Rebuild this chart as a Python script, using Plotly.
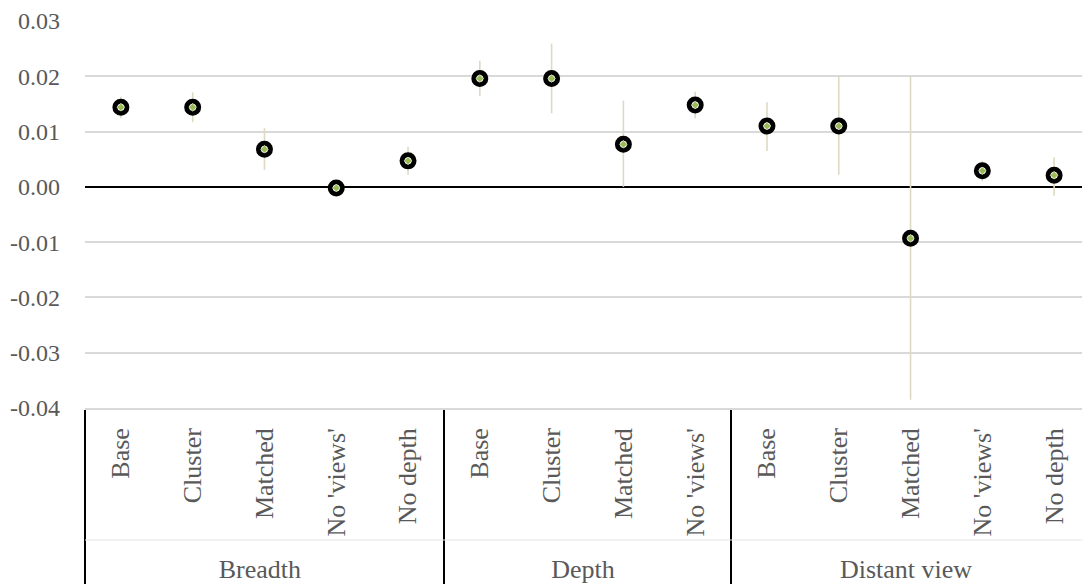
import plotly.graph_objects as go

groups = ["Breadth"] * 5 + ["Depth"] * 4 + ["Distant view"] * 5
subs = ["Base", "Cluster", "Matched", "No 'views'", "No depth",
        "Base", "Cluster", "Matched", "No 'views'",
        "Base", "Cluster", "Matched", "No 'views'", "No depth"]
values = [0.0144, 0.0144, 0.0068, -0.0002, 0.0047,
          0.0196, 0.0196, 0.0077, 0.0148,
          0.0110, 0.0110, -0.0093, 0.0029, 0.0021]
upper = [0.0163, 0.0171, 0.0106, 0.0002, 0.0072,
         0.0228, 0.0259, 0.0156, 0.0172,
         0.0153, 0.0200, 0.0200, 0.0047, 0.0053]
lower = [0.0124, 0.0117, 0.0031, -0.0006, 0.0022,
         0.0165, 0.0133, 0.0000, 0.0124,
         0.0065, 0.0022, -0.0385, 0.0010, -0.0016]
ytickvals = [-0.04, -0.03, -0.02, -0.01, 0.0, 0.01, 0.02, 0.03]
yticktext = ["-0.04", "-0.03", "-0.02", "-0.01", "0.00", "0.01", "0.02", "0.03"]

FONT = "Liberation Serif"
err_plus = [u - v for u, v in zip(upper, values)]
err_minus = [v - l for v, l in zip(values, lower)]

fig = go.Figure()
fig.add_trace(go.Scatter(
    x=[groups, subs], y=values, mode="markers",
    marker=dict(symbol="circle", size=12, color="white",
                line=dict(color="black", width=5)),
    error_y=dict(type="data", array=err_plus, arrayminus=err_minus,
                 color="#DDD9C3", thickness=1.6, width=0),
    showlegend=False, hoverinfo="skip",
))
fig.add_trace(go.Scatter(
    x=[groups, subs], y=values, mode="markers",
    marker=dict(symbol="diamond", size=6, color="#9BBB59",
                line=dict(color="#F4F8E8", width=0.5)),
    showlegend=False, hoverinfo="skip",
))

fig.update_layout(
    width=1082, height=579,
    margin=dict(l=77, r=0, t=13, b=179),
    paper_bgcolor="white", plot_bgcolor="white",
    font=dict(family=FONT, size=26, color="#595959"),
    xaxis=dict(type="multicategory", tickangle=-90, showdividers=True,
               dividercolor="black", dividerwidth=2, automargin=False,
               range=[-0.5, 13.5], ticklabelstandoff=8,
               showline=True, linecolor="#D9D9D9", linewidth=1.5,
               showgrid=False, ticks="",
               tickfont=dict(family=FONT, size=26, color="#595959")),
    yaxis=dict(range=[-0.04, 0.03], tickvals=ytickvals, ticktext=yticktext,
               automargin=False,
               showgrid=True, gridcolor="#D9D9D9", gridwidth=1.5,
               zeroline=True, zerolinecolor="black", zerolinewidth=2,
               showline=False, ticks="", ticklabelstandoff=24,
               tickfont=dict(family=FONT, size=24, color="#595959")),
)
fig.add_shape(type="line", xref="paper", yref="paper", x0=0, x1=1,
              y0=-0.341, y1=-0.341, line=dict(color="#E6E6E6", width=1))

fig.write_html("out.html")
